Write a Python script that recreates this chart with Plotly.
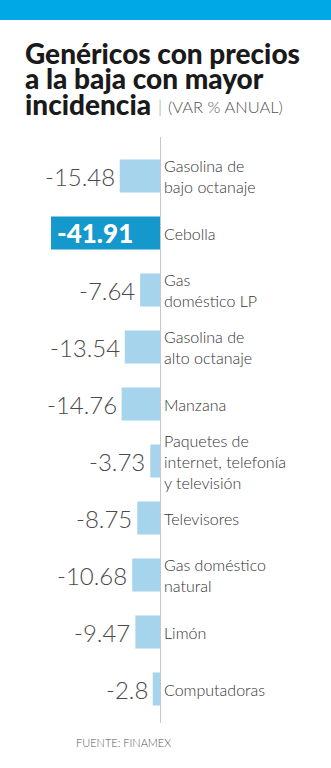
import plotly.graph_objects as go

categories = ["Gasolina de<br>bajo octanaje", "Cebolla", "Gas<br>doméstico LP",
              "Gasolina de<br>alto octanaje", "Manzana",
              "Paquetes de<br>internet, telefonía<br>y televisión", "Televisores",
              "Gas doméstico<br>natural", "Limón", "Computadoras"]
values = [-15.48, -41.91, -7.64, -13.54, -14.76, -3.73, -8.75, -10.68, -9.47, -2.8]
value_labels = ["-15.48", "-41.91", "-7.64", "-13.54", "-14.76", "-3.73", "-8.75",
                "-10.68", "-9.47", "-2.8"]
highlight = "Cebolla"

title_lines = ["Genéricos con precios", "a la baja con mayor", "incidencia"]
subtitle = "(VAR % ANUAL)"
source = "FUENTE: FINAMEX"

W, H = 331, 768
MT, MB = 137, 45
PH = H - MT - MB


def py(p):
    return (H - MB - p) / PH


def px(p):
    return p / W


LIGHT = "#a6d4ec"
DARK = "#1598cc"
BAND = "#00a9e6"
TXT = "#333333"
FONT = "Lato"

ypos = list(range(len(categories)))
colors = [DARK if c == highlight else LIGHT for c in categories]

fig = go.Figure()
fig.add_trace(go.Bar(
    x=values, y=ypos, orientation="h", width=0.58,
    marker=dict(color=colors, line=dict(width=0)),
    hoverinfo="skip",
))

ann = []
for i, (c, v, lab) in enumerate(zip(categories, values, value_labels)):
    if c == highlight:
        ann.append(dict(x=v, y=i, xref="x", yref="y", text=lab, showarrow=False,
                        xanchor="left", yanchor="middle", xshift=4,
                        font=dict(family=FONT, size=26, color="white", weight=900)))
    else:
        ann.append(dict(x=v, y=i, xref="x", yref="y", text=lab, showarrow=False,
                        xanchor="right", yanchor="middle", xshift=-3,
                        font=dict(family=FONT, size=24, color="#4a4a4a", weight=300)))
    ann.append(dict(x=0, y=i, xref="x", yref="y", text=c, showarrow=False,
                    xanchor="left", yanchor="middle", xshift=2, align="left",
                    font=dict(family=FONT, size=16, color=TXT, weight=300)))

baselines = [63, 88, 114]
for t, b in zip(title_lines, baselines):
    ann.append(dict(x=px(23), y=py(b - 10), xref="paper", yref="paper", text=t,
                    showarrow=False, xanchor="left", yanchor="middle",
                    font=dict(family=FONT, size=28, color="#1a1a1a", weight=900)))
ann.append(dict(x=px(156), y=py(107), xref="paper", yref="paper",
                text="|", showarrow=False, xanchor="left", yanchor="middle",
                font=dict(family=FONT, size=17, color="#9a9a9a", weight=300)))
ann.append(dict(x=px(166), y=py(107), xref="paper", yref="paper",
                text=subtitle, showarrow=False, xanchor="left", yanchor="middle",
                font=dict(family=FONT, size=16.5, color="#555555", weight=300)))
ann.append(dict(x=px(74), y=py(742), xref="paper", yref="paper",
                text=source, showarrow=False, xanchor="left", yanchor="middle",
                font=dict(family=FONT, size=11, color="#555555", weight=300)))

shapes = [dict(type="rect", xref="paper", yref="paper", x0=0, x1=1,
               y0=py(20), y1=py(0), fillcolor=BAND, line=dict(width=0), layer="above")]

fig.update_layout(
    width=W, height=H, margin=dict(l=0, r=0, t=MT, b=MB, pad=0),
    paper_bgcolor="white", plot_bgcolor="white", showlegend=False,
    annotations=ann, shapes=shapes,
    xaxis=dict(range=[-160 / 2.6, (W - 160) / 2.6], showgrid=False,
               showticklabels=False, zeroline=True, zerolinecolor="#c8c8c8",
               zerolinewidth=1, fixedrange=True),
    yaxis=dict(range=[9 + 34 / 57, -39 / 57], showgrid=False, showticklabels=False,
               zeroline=False, fixedrange=True),
)

fig.write_html("out.html")
